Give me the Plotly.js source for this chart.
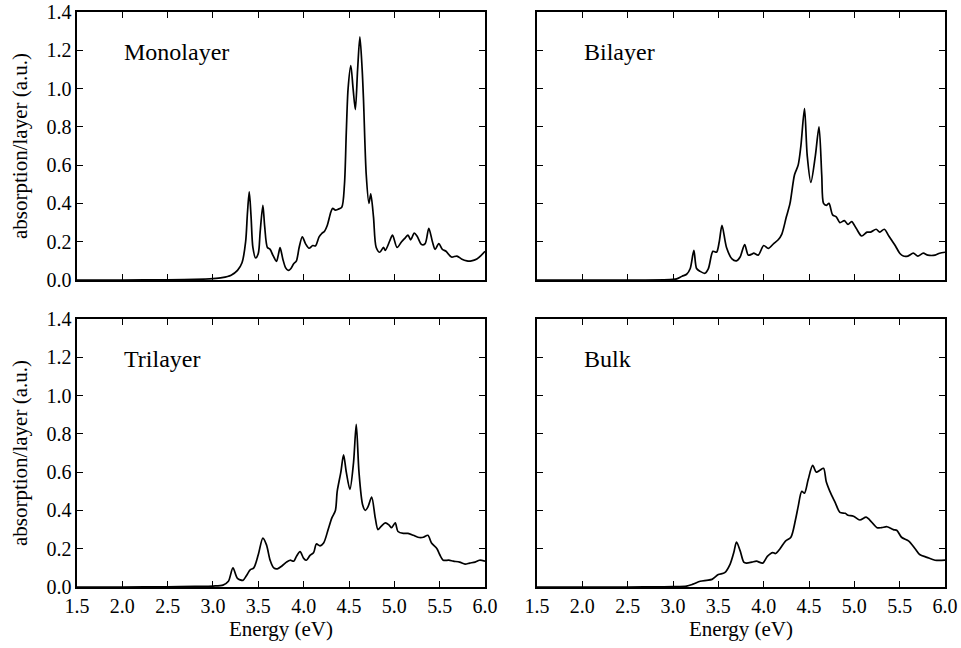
<!DOCTYPE html>
<html>
<head>
<meta charset="utf-8">
<script src="https://cdn.plot.ly/plotly-3.0.1.min.js"></script>
<style>html,body{margin:0;padding:0;background:#fff;}#chart{width:961px;height:648px;}</style>
</head>
<body>
<div id="chart"></div>
<script>
// ---- data ----
const panelLabels = ["Monolayer", "Bilayer", "Trilayer", "Bulk"];
const xTitle = "Energy (eV)";
const yTitle = "absorption/layer (a.u.)";

const monoE = [1.5,2.0,2.5,2.8,3.0,3.1,3.2,3.27,3.32,3.36,3.38,3.40,3.42,3.44,3.47,3.50,3.52,3.55,3.57,3.60,3.63,3.66,3.70,3.72,3.74,3.77,3.80,3.83,3.86,3.89,3.92,3.95,3.985,4.02,4.06,4.10,4.13,4.17,4.20,4.23,4.26,4.30,4.32,4.35,4.38,4.42,4.45,4.47,4.49,4.52,4.545,4.57,4.595,4.62,4.645,4.66,4.69,4.72,4.74,4.77,4.80,4.84,4.88,4.90,4.95,4.98,5.03,5.08,5.12,5.15,5.18,5.22,5.25,5.30,5.34,5.38,5.42,5.45,5.49,5.53,5.57,5.63,5.69,5.74,5.80,5.85,5.91,5.96,6.0];
const monoA = [0,0,0.001,0.003,0.007,0.012,0.025,0.05,0.09,0.2,0.35,0.46,0.33,0.17,0.115,0.14,0.25,0.39,0.28,0.17,0.16,0.13,0.097,0.13,0.169,0.11,0.065,0.05,0.06,0.085,0.1,0.17,0.226,0.19,0.166,0.18,0.178,0.225,0.243,0.255,0.285,0.355,0.374,0.365,0.37,0.38,0.5,0.77,1.0,1.12,1.0,0.89,1.1,1.27,1.1,0.94,0.55,0.40,0.45,0.33,0.17,0.145,0.17,0.155,0.205,0.235,0.17,0.2,0.22,0.235,0.21,0.245,0.23,0.185,0.19,0.27,0.2,0.16,0.19,0.16,0.15,0.12,0.125,0.11,0.10,0.10,0.11,0.13,0.15];

const biE = [1.5,2.0,2.5,2.9,3.0,3.04,3.1,3.15,3.19,3.23,3.26,3.3,3.35,3.39,3.44,3.48,3.51,3.54,3.59,3.65,3.70,3.74,3.79,3.83,3.87,3.89,3.94,4.0,4.05,4.11,4.16,4.2,4.25,4.29,4.34,4.38,4.41,4.45,4.48,4.52,4.57,4.61,4.64,4.66,4.69,4.72,4.76,4.80,4.84,4.89,4.93,4.97,5.02,5.08,5.14,5.18,5.24,5.28,5.33,5.38,5.45,5.5,5.54,5.59,5.65,5.70,5.76,5.81,5.89,5.94,6.0];
const biA = [0,0,0,0.001,0.003,0.006,0.02,0.03,0.06,0.155,0.06,0.045,0.035,0.06,0.15,0.145,0.2,0.285,0.17,0.11,0.10,0.12,0.185,0.13,0.135,0.14,0.13,0.18,0.165,0.19,0.21,0.24,0.33,0.4,0.55,0.6,0.7,0.895,0.65,0.51,0.65,0.80,0.55,0.40,0.39,0.40,0.34,0.33,0.30,0.31,0.29,0.305,0.27,0.23,0.25,0.25,0.265,0.25,0.265,0.23,0.18,0.14,0.125,0.125,0.14,0.125,0.14,0.13,0.13,0.14,0.145];

const triE = [1.5,2.0,2.5,2.8,3.0,3.11,3.17,3.22,3.27,3.33,3.37,3.41,3.45,3.5,3.55,3.59,3.63,3.67,3.71,3.76,3.81,3.85,3.89,3.92,3.96,4.0,4.03,4.07,4.11,4.14,4.18,4.22,4.27,4.31,4.35,4.37,4.41,4.44,4.47,4.51,4.55,4.58,4.61,4.65,4.68,4.71,4.75,4.79,4.82,4.86,4.90,4.94,4.97,5.01,5.04,5.1,5.15,5.21,5.26,5.32,5.37,5.41,5.47,5.50,5.54,5.6,5.65,5.72,5.78,5.83,5.89,5.94,6.0];
const triA = [0,0,0.001,0.003,0.005,0.01,0.03,0.1,0.045,0.035,0.06,0.09,0.1,0.17,0.255,0.22,0.14,0.1,0.095,0.11,0.13,0.14,0.135,0.16,0.185,0.15,0.14,0.165,0.18,0.225,0.215,0.23,0.3,0.36,0.4,0.5,0.6,0.69,0.6,0.51,0.65,0.85,0.6,0.43,0.40,0.42,0.47,0.36,0.30,0.32,0.335,0.325,0.31,0.335,0.29,0.28,0.28,0.27,0.26,0.26,0.27,0.23,0.2,0.17,0.14,0.14,0.135,0.13,0.12,0.125,0.13,0.14,0.135];

const bulkE = [1.5,2.0,2.5,2.9,3.0,3.15,3.22,3.3,3.37,3.43,3.5,3.57,3.63,3.67,3.70,3.74,3.78,3.81,3.87,3.92,3.99,4.04,4.1,4.13,4.18,4.24,4.3,4.35,4.38,4.42,4.45,4.49,4.54,4.58,4.62,4.66,4.69,4.73,4.79,4.84,4.9,4.93,4.99,5.06,5.13,5.17,5.25,5.30,5.36,5.43,5.47,5.52,5.6,5.67,5.72,5.8,5.89,6.0];
const bulkA = [0,0,0,0.001,0.002,0.005,0.015,0.03,0.035,0.04,0.065,0.075,0.12,0.18,0.235,0.19,0.13,0.125,0.13,0.135,0.125,0.16,0.18,0.175,0.2,0.24,0.26,0.35,0.42,0.5,0.49,0.56,0.635,0.6,0.61,0.62,0.55,0.5,0.44,0.39,0.385,0.375,0.37,0.35,0.365,0.35,0.31,0.31,0.315,0.3,0.295,0.26,0.24,0.2,0.17,0.155,0.14,0.14];

const seriesE = [monoE, biE, triE, bulkE];
const seriesA = [monoA, biA, triA, bulkA];

// ---- figure ----
const FONT = '"Liberation Serif", "Times New Roman", serif';
const axisNames = [["x","y"],["x2","y2"],["x3","y3"],["x4","y4"]];

const traces = seriesE.map((e, i) => ({
  x: e, y: seriesA[i], type: "scatter", mode: "lines",
  xaxis: axisNames[i][0], yaxis: axisNames[i][1],
  line: {color: "black", width: 1.7, shape: "spline", smoothing: 0.8},
  hoverinfo: "skip", showlegend: false
}));

const xDom = [[0.0801, 0.5047], [0.5588, 0.9834]];
const yDom = [[0.5679, 0.9815], [0.0941, 0.5077]];

function xAxis(col, row, anchor) {
  return {
    domain: xDom[col], anchor: anchor, range: [1.5, 6.0],
    dtick: 0.5, tick0: 1.5, tickformat: ".1f",
    showline: true, linecolor: "black", linewidth: 1.6, mirror: "ticks",
    ticks: "inside", ticklen: 6, tickwidth: 1, tickcolor: "black",
    showgrid: false, zeroline: false, automargin: false,
    showticklabels: row === 1,
    tickfont: {family: FONT, size: 20, color: "black"},
    title: row === 1 ? {text: xTitle, font: {family: FONT, size: 21, color: "black"}, standoff: 3} : {text: ""}
  };
}
function yAxis(col, row, anchor) {
  return {
    domain: yDom[row], anchor: anchor, range: [0, 1.4],
    dtick: 0.2, tick0: 0, tickformat: ".1f",
    showline: true, linecolor: "black", linewidth: 1.6, mirror: "ticks",
    ticks: "inside", ticklen: 6, tickwidth: 1, tickcolor: "black",
    showgrid: false, zeroline: false, automargin: false,
    showticklabels: col === 0, ticklabelstandoff: 0,
    tickfont: {family: FONT, size: 20, color: "black"},
    title: col === 0 ? {text: yTitle, font: {family: FONT, size: 21, color: "black"}, standoff: 13} : {text: ""}
  };
}

const layout = {
  width: 961, height: 648,
  margin: {l: 0, r: 0, t: 0, b: 0},
  paper_bgcolor: "white", plot_bgcolor: "white",
  showlegend: false,
  xaxis: xAxis(0, 0, "y"),   yaxis: yAxis(0, 0, "x"),
  xaxis2: xAxis(1, 0, "y2"), yaxis2: yAxis(1, 0, "x2"),
  xaxis3: xAxis(0, 1, "y3"), yaxis3: yAxis(0, 1, "x3"),
  xaxis4: xAxis(1, 1, "y4"), yaxis4: yAxis(1, 1, "x4"),
  annotations: panelLabels.map((t, i) => ({
    text: t, xref: axisNames[i][0], yref: axisNames[i][1],
    x: 2.0, y: 1.19, xanchor: "left", yanchor: "middle", showarrow: false,
    font: {family: FONT, size: 24, color: "black"}
  }))
};

Plotly.newPlot("chart", traces, layout, {staticPlot: true, displayModeBar: false});
</script>
</body>
</html>
